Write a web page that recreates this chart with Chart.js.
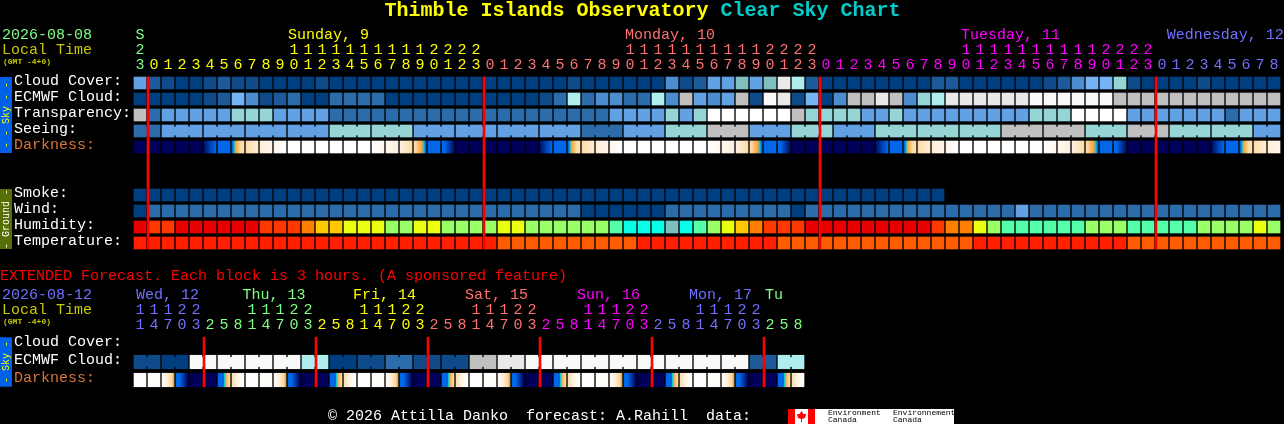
<!DOCTYPE html>
<html><head><meta charset="utf-8">
<script src="https://cdn.jsdelivr.net/npm/chart.js@4"></script>
<style>html,body{margin:0;padding:0;background:#000;width:1284px;height:424px;overflow:hidden}canvas{position:absolute;left:0}</style>
</head><body>
<canvas id="main" width="1284" height="262" style="top:0"></canvas>
<canvas id="ext" width="1284" height="162" style="top:262px"></canvas>
<script>
const FONT='"Liberation Mono","DejaVu Sans Mono",monospace';
const GREEN='#80ff80',YELLOW='#ffff00',SALMON='#ff7070',MAGENTA='#ff00ff',BLUE='#7070ff';

/* ---------- main chart: hourly ---------- */
const rowNames=['Cloud Cover:','ECMWF Cloud:','Transparency:','Seeing:','Darkness:','','','Smoke:','Wind:','Humidity:','Temperature:'];
const hours=[23,0,1,2,3,4,5,6,7,8,9,10,11,12,13,14,15,16,17,18,19,20,21,22,23,0,1,2,3,4,5,6,7,8,9,10,11,12,13,14,15,16,17,18,19,20,21,22,23,0,1,2,3,4,5,6,7,8,9,10,11,12,13,14,15,16,17,18,19,20,21,22,23,0,1,2,3,4,5,6,7,8];
const dayLabels=[['Sunday, 9',10.93,YELLOW],['Monday, 10',35,SALMON],['Tuesday, 11',59,MAGENTA],['Wednesday, 12',73.7,BLUE]];
const hourColors=[GREEN,...Array(24).fill(YELLOW),...Array(24).fill(SALMON),...Array(24).fill(MAGENTA),...Array(9).fill(BLUE)];

const skyPalette=['#003f7f','#0f4b8b','#1c5a9a','#2d6cab','#4d8dcf','#62a1e3','#74b4f4','#7fbfbf','#95d5d5','#aeeeee','#c0c0c0','#e9e9e9','#f9f9f9','#ffffff'];
const humidityPalette=['#e80000','#ff3800','#ff8000','#ffc800','#ebff12','#99ff66','#55ffaa','#0affe8','#7fbfbf'];
const tempPalette=['#ff2000','#ff5c00'];

const cloud=[5,2,1,0,0,1,2,1,1,0,0,0,0,1,0,0,0,0,0,0,0,0,0,0,0,0,0,0,0,0,0,1,0,0,0,0,0,0,4,1,2,5,5,7,5,7,11,9,2,0,0,0,0,0,0,0,0,2,2,0,0,0,0,0,0,1,2,4,6,6,8,1,0,0,0,0,1,0,0,0,0,0];
const ecmwf=[0,0,0,0,0,1,2,6,4,1,2,3,0,0,3,3,3,3,0,0,0,0,0,0,0,0,0,0,0,1,3,9,3,4,4,3,3,9,4,10,5,4,5,10,1,12,11,1,6,0,4,10,10,11,10,4,8,9,11,11,11,11,11,11,12,12,12,12,12,12,10,10,10,10,10,10,10,10,10,10,10,10];
const transparency=[10,3,5,5,5,5,5,8,8,8,5,5,5,5,3,3,3,3,3,3,3,3,3,3,3,3,3,3,3,3,3,3,3,3,5,5,5,5,8,5,8,13,13,13,13,13,13,10,8,8,8,8,5,5,8,5,5,5,5,5,5,5,5,5,8,8,8,13,13,13,13,5,5,5,5,5,5,5,3,5,5,5];
const seeing=[3,3,5,5,5,5,5,5,5,5,5,5,5,5,8,8,8,8,8,8,5,5,5,5,5,5,5,5,5,5,5,5,3,3,3,5,5,5,8,8,8,10,10,10,5,5,5,8,8,8,5,5,5,8,8,8,8,8,8,8,8,8,10,10,10,10,10,10,8,8,8,10,10,10,8,8,8,8,8,8,5,5];
const seeingLinks=[0,2,3,5,6,8,9,11,12,14,15,17,18,20,21,23,24,26,27,29,30,32,33,35,36,38,39,41,42,44,45,47,48,50,51,53,54,56,57,59,60,62,63,65,66,68,69,71,72,74,75,77,78,80];
const darkLeft =[0,0,0,0,0,3,24,32,52,66,82,100,100,100,100,100,100,100,85,70,50,24,22,0, 0,0,0,0,0,3,24,32,52,66,82,100,100,100,100,100,100,100,85,70,50,24,22,0, 0,0,0,0,0,3,24,32,52,66,82,100,100,100,100,100,100,100,85,70,50,24,22,0, 0,0,0,0,0,3,24,32,52,66];
const darkRight=[0,0,0,0,0,18,26,55,66,82,100,100,100,100,100,100,100,85,70,50,33,20,2,0, 0,0,0,0,0,18,26,55,66,82,100,100,100,100,100,100,100,85,70,50,33,20,2,0, 0,0,0,0,0,18,26,55,66,82,100,100,100,100,100,100,100,85,70,50,33,20,2,0, 0,0,0,0,0,18,26,55,66,82];
const smoke=[0,0,0,0,0,0,0,0,0,0,0,0,0,0,0,0,0,0,0,0,0,0,0,0,0,0,0,0,0,0,0,0,0,0,0,0,0,0,0,0,0,0,0,0,0,0,0,0,0,0,0,0,0,0,0,0,0,0];
const wind=[0,3,3,3,3,3,3,3,3,3,3,3,3,3,3,3,3,3,3,3,3,3,3,3,3,3,3,3,3,3,3,3,0,0,0,0,0,0,3,3,3,3,3,3,3,3,3,0,3,3,3,3,3,3,3,3,3,3,3,3,3,3,3,5,3,3,3,3,3,3,3,3,3,3,3,3,3,3,3,3,3,3];
const humidity=[0,1,1,0,0,0,0,0,0,1,1,1,2,3,3,4,4,4,5,5,4,4,5,5,5,5,4,4,5,5,5,5,5,5,6,7,7,7,8,7,6,5,4,3,2,1,1,1,0,0,0,0,0,0,0,0,0,1,2,2,4,5,6,6,6,6,6,6,5,5,5,6,6,6,6,6,5,5,5,5,4,5];
const temperature=[0,0,0,0,0,0,0,0,0,0,0,0,0,0,0,0,0,0,0,0,0,0,0,0,0,0,1,1,1,1,1,1,1,1,1,1,0,0,0,0,0,0,0,0,0,0,1,1,1,1,1,1,1,1,1,1,1,1,1,1,0,0,0,0,0,0,0,0,0,0,0,1,1,1,1,1,1,1,1,1,1,1];
const midnights=[1,25,49,73];

/* ---------- extended chart: 3-hourly ---------- */
const extRowNames=['Cloud Cover:','ECMWF Cloud:','Darkness:'];
const extHours=[11,14,17,20,23,2,5,8,11,14,17,20,23,2,5,8,11,14,17,20,23,2,5,8,11,14,17,20,23,2,5,8,11,14,17,20,23,2,5,8,11,14,17,20,23,2,5,8];
const extDays=[['Wed, 12',0,BLUE],['Thu, 13',7.6,GREEN],['Fri, 14',15.5,YELLOW],['Sat, 15',23.5,SALMON],['Sun, 16',31.5,MAGENTA],['Mon, 17',39.5,BLUE],['Tu',44.93,GREEN]];
const extColors=[...Array(5).fill(BLUE),...Array(8).fill(GREEN),...Array(8).fill(YELLOW),...Array(8).fill(SALMON),...Array(8).fill(MAGENTA),...Array(8).fill(BLUE),...Array(3).fill(GREEN)];
const extEcmwf=[1,1,0,0,12,12,12,12,12,12,12,12,9,9,0,0,1,1,3,3,1,1,1,1,10,10,11,11,12,12,12,12,12,12,12,12,12,12,12,12,12,12,12,12,2,2,9,9];
const extLinks=[0,2,4,6,8,10,12,14,16,18,20,22,24,26,28,30,32,34,36,38,40,42,44,46];
const extDarkLeft =[100,100,90,26,0,0,20,50,100,100,90,26,0,0,20,50,100,100,90,26,0,0,20,50,100,100,90,26,0,0,20,50,100,100,90,26,0,0,20,50,100,100,90,26,0,0,20,50];
const extDarkRight=[100,90,38,0,0,0,50,100,100,90,38,0,0,0,50,100,100,90,38,0,0,0,50,100,100,90,38,0,0,0,50,100,100,90,38,0,0,0,50,100,100,90,38,0,0,0,50,100];
const extMidnights=[5,13,21,29,37,45];

/* darkness ramp: value -> colour */
const ramp=[[0,'#00005a'],[18,'#0068e8'],[34,'#0068e8'],[36,'#00c8e0'],[39,'#f9a030'],[48,'#fdd8a0'],[70,'#fff0e0'],[100,'#ffffff']];

const HALF=6/16;      // half cell height, in rows
const LINK=4/16;
function lerp(a,b,f){
  const pa=[1,3,5].map(i=>parseInt(a.substr(i,2),16)),pb=[1,3,5].map(i=>parseInt(b.substr(i,2),16));
  return 'rgb('+pa.map((v,i)=>Math.round(v+(pb[i]-v)*f)).join(',')+')';
}
function rampColor(v){
  for(let i=1;i<ramp.length;i++) if(v<=ramp[i][0]) return lerp(ramp[i-1][1],ramp[i][1],(v-ramp[i-1][0])/(ramp[i][0]-ramp[i-1][0]));
  return '#ffffff';
}
function cellRow(label,row,values,palette){
  return {label,data:values.map((v,i)=>({x:i,y:[row-HALF,row+HALF]})),backgroundColor:values.map(v=>palette[v]),
    barThickness:12,grouped:false,order:5};
}
function linkRow(label,row,links,values,palette){
  return {label,data:links.map(i=>({x:i+0.5,y:[row-LINK,row+LINK]})),backgroundColor:links.map(i=>palette[values[i]]),
    barThickness:2,grouped:false,order:4};
}
function darkRow(label,row,left,right){
  return {label,data:left.map((v,i)=>({x:i,y:[row-HALF,row+HALF]})),barThickness:12,grouped:false,order:5,
    backgroundColor(ctx){
      if(ctx.type!=='data') return '#000';
      const i=ctx.dataIndex,a=left[i],b=right[i],xs=ctx.chart.scales.x,c=xs?xs.getPixelForValue(i):NaN;
      if(!isFinite(c)) return '#000';
      const g=ctx.chart.ctx.createLinearGradient(c-6,0,c+6,0);
      g.addColorStop(0,rampColor(a));g.addColorStop(1,rampColor(b));
      if(a!==b) ramp.forEach(s=>{const f=(s[0]-a)/(b-a); if(f>0&&f<1) g.addColorStop(f,s[1]);});
      return g;
    }};
}
function lineRow(label,cols,top,bottom){
  return {label,data:cols.map(i=>({x:i-0.5+1/14,y:[top,bottom]})),backgroundColor:'#ff0000',barThickness:2,grouped:false,order:1};
}
function txt(c,s,x,y,color,font){c.font=font||('15px '+FONT);c.fillStyle=color;c.textAlign='left';c.textBaseline='middle';c.fillText(s,x,y);}
function band(c,top,bottom,color,s,textColor){
  c.fillStyle=color;c.fillRect(0,top,12,bottom-top);
  c.save();c.translate(6,(top+bottom)/2);c.rotate(-Math.PI/2);c.font='10px '+FONT;c.fillStyle=textColor;c.textAlign='center';c.textBaseline='middle';c.fillText(s,0,0);c.restore();
}
function axes(nCols,nRows,labels,colors,names,xHeight,yWidth){
  return {
    x:{type:'linear',position:'top',offset:false,min:-0.5,max:nCols-0.5,grid:{display:false,drawTicks:false},border:{display:false},
      afterBuildTicks(s){s.ticks=colors.map((_,i)=>({value:i}));},
      afterFit(s){s.height=xHeight;s.paddingLeft=0;s.paddingRight=0;},
      ticks:{autoSkip:false,maxRotation:0,minRotation:0,padding:2,font:{family:FONT,size:15,lineHeight:1},
        color:ctx=>colors[ctx.tick?ctx.tick.value:0],callback:v=>labels(v)}},
    y:{type:'linear',reverse:true,offset:false,min:-0.5,max:nRows-0.5,grid:{display:false,drawTicks:false},border:{display:false},
      afterBuildTicks(s){s.ticks=names.map((_,i)=>({value:i}));},
      afterFit(s){s.width=yWidth;s.paddingTop=0;s.paddingBottom=0;},
      ticks:{autoSkip:false,crossAlign:'far',padding:0,labelOffset:-2,font:{family:FONT,size:15},
        color:ctx=>(names[ctx.tick?ctx.tick.value:0]==='Darkness:'?'#d9743a':'#ffffff'),callback:v=>names[v]}}
  };
}
const base={responsive:false,animation:false,devicePixelRatio:1,events:[],plugins:{legend:{display:false},tooltip:{enabled:false}}};

new Chart(document.getElementById('main'),{type:'bar',
  data:{datasets:[
    lineRow('Midnight',midnights,-HALF,10+HALF),
    cellRow('Cloud Cover',0,cloud,skyPalette),
    cellRow('ECMWF Cloud',1,ecmwf,skyPalette),
    cellRow('Transparency',2,transparency,skyPalette),
    cellRow('Seeing',3,seeing,skyPalette),
    linkRow('Seeing blocks',3,seeingLinks,seeing,skyPalette),
    darkRow('Darkness',4,darkLeft,darkRight),
    cellRow('Smoke',7,smoke,skyPalette),
    cellRow('Wind',8,wind,skyPalette),
    cellRow('Humidity',9,humidity,humidityPalette),
    cellRow('Temperature',10,temperature,tempPalette)
  ]},
  options:{...base,layout:{padding:{left:14,right:3,top:0,bottom:11}},
    scales:axes(82,11,i=>{const h=hours[i];return [i===0?'S':'',(i===0?'2':(h>=10?String(Math.floor(h/10)):'')),String(h%10)];},hourColors,rowNames,75,119)},
  plugins:[{id:'mainText',afterDraw(ch){
    const c=ch.ctx,xs=ch.scales.x,ys=ch.scales.y;
    c.save();
    const tf='bold 20px '+FONT,t1='Thimble Islands Observatory ',t2='Clear Sky Chart';
    c.font=tf;const w=c.measureText(t1).width,wt=w+c.measureText(t2).width,x0=(ch.width-wt)/2+0.5;
    txt(c,t1,x0,11,YELLOW,tf);txt(c,t2,x0+w,11,'#00cccc',tf);
    txt(c,'2026-08-08',2,35,GREEN);txt(c,'Local Time',2,50,'#c8c800');
    txt(c,'(GMT -4+0)',3,62,'#c8c800','bold 8px '+FONT);
    dayLabels.forEach(d=>{c.font='15px '+FONT;const tw=c.measureText(d[0]).width;
      txt(c,d[0],Math.min(xs.getPixelForValue(d[1])-5,ch.width-tw),35,d[2]);});
    band(c,ys.getPixelForValue(-HALF),ys.getPixelForValue(4+HALF),'#0060e8','- - Sky - -',YELLOW);
    band(c,ys.getPixelForValue(7-HALF),ys.getPixelForValue(10+HALF),'#566f06','- Ground -','#ffffff');
    c.restore();
  }}]
});

new Chart(document.getElementById('ext'),{type:'bar',
  data:{datasets:[
    lineRow('Midnight',extMidnights,-HALF,2+HALF),
    cellRow('ECMWF Cloud',1,extEcmwf,skyPalette),
    linkRow('ECMWF blocks',1,extLinks,extEcmwf,skyPalette),
    darkRow('Darkness',2,extDarkLeft,extDarkRight)
  ]},
  options:{...base,layout:{padding:{left:14,right:479,top:0,bottom:35}},
    scales:axes(48,3,i=>{const h=extHours[i];return [h>=10?String(Math.floor(h/10)):'',String(h%10)];},extColors,extRowNames,73,119)},
  plugins:[{id:'extText',afterDraw(ch){
    const c=ch.ctx,xs=ch.scales.x,ys=ch.scales.y,dy=262;
    c.save();
    txt(c,'EXTENDED Forecast. Each block is 3 hours. (A sponsored feature)',0,276-dy,'#ff0000');
    txt(c,'2026-08-12',2,295-dy,BLUE);txt(c,'Local Time',2,310-dy,'#c8c800');
    txt(c,'(GMT -4+0)',3,322-dy,'#c8c800','bold 8px '+FONT);
    extDays.forEach(d=>txt(c,d[0],xs.getPixelForValue(d[1])-4,295-dy,d[2]));
    band(c,ys.getPixelForValue(-HALF),ys.getPixelForValue(2+HALF),'#0060e8','- Sky -',YELLOW);
    txt(c,'\u00a9 2026 Attilla Danko  forecast: A.Rahill  data:',328,416-dy,'#ffffff');
    // Environment Canada logo
    const ly=409-dy,lh=15;
    c.fillStyle='#ffffff';c.fillRect(788,ly,166,lh);
    c.fillStyle='#ff0000';c.fillRect(788,ly,7,lh);c.fillRect(808,ly,7,lh);
    c.beginPath();c.moveTo(801.5,ly+2);c.lineTo(803.5,ly+5);c.lineTo(806,ly+5);c.lineTo(805,ly+9);c.lineTo(802,ly+10);c.lineTo(802,ly+13);c.lineTo(801,ly+13);c.lineTo(801,ly+10);c.lineTo(798,ly+9);c.lineTo(797,ly+5);c.lineTo(799.5,ly+5);c.closePath();c.fill();
    const sf='8px '+FONT;
    txt(c,'Environment',828,ly+4,'#000000',sf);txt(c,'Canada',828,ly+11,'#000000',sf);
    txt(c,'Environnement',893,ly+4,'#000000',sf);txt(c,'Canada',893,ly+11,'#000000',sf);
    c.restore();
  }}]
});
</script>
</body></html>
